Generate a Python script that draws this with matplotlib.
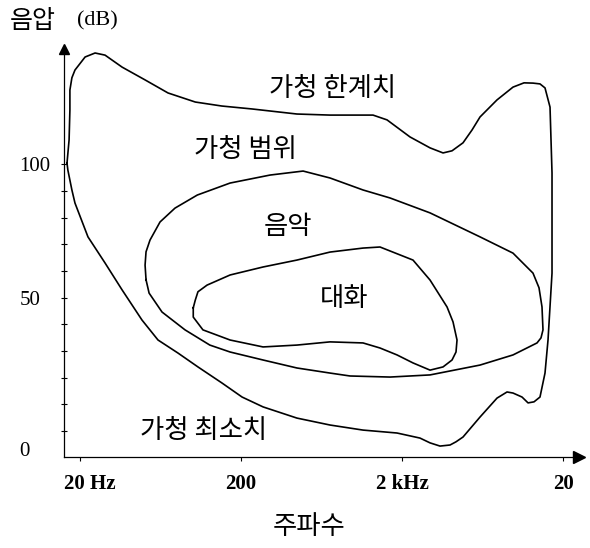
import matplotlib
matplotlib.use('Agg')
import numpy as np
import matplotlib.pyplot as plt
import matplotlib.transforms as mtransforms
from matplotlib.ticker import NullLocator

# hearing range (가청 한계치 on top, 가청 최소치 at the bottom)
outer_hz = [16.6, 17.1, 17.3, 17.3, 17.8, 18.6, 21.5, 24.8, 28.6, 36.5, 50.7, 70.4, 104, 152,
            234, 445, 714, 1321, 1614, 2242, 2986, 3596, 4090, 4786, 5442, 6104, 7782, 9783,
            11450, 13020, 14390, 15460, 16610, 17090, 17090, 16140, 15460, 14390, 13210, 12130,
            11130, 9783, 8980, 7782, 6104, 4786, 4329, 3975, 3444, 2986, 2587, 1862, 1145, 714,
            445, 274, 203, 152, 108, 81.2, 61.0, 48.5, 36.5, 28.6, 22.4, 18.6, 17.8, 16.8]
outer_db = [100.5, 109.2, 120.4, 127.9, 132.5, 135.4, 140.3, 141.8, 141.0, 136.5, 131.7, 126.8,
            123.4, 121.9, 120.8, 118.9, 118.5, 118.5, 116.7, 110.3, 106.2, 104.3, 105.1, 108.1,
            112.9, 117.8, 124.2, 129.0, 130.6, 130.5, 130.2, 128.7, 121.5, 96.8, 59.2, 34.1,
            21.7, 12.7, 10.9, 10.5, 12.7, 14.2, 14.6, 12.3, 5.2, -2.3, -4.1, -5.3, -5.7, -4.5,
            -2.7, -0.8, 0.3, 2.2, 4.8, 9.0, 12.7, 18.0, 24.0, 29.2, 34.1, 41.6, 52.9, 63.0, 72.8,
            85.5, 90.4, 97.9]

# music
music_hz = [51.4, 50.7, 51.4, 54.4, 62.8, 77.8, 107, 171, 303, 486, 714, 1145, 1685, 2986,
            6104, 9783, 13020, 14190, 14810, 15020, 14600, 13790, 9783, 6104, 2986, 1685, 951,
            714, 445, 274, 171, 128, 89.8, 64.6, 53.7]
music_db = [56.7, 62.2, 67.2, 71.6, 78.4, 83.6, 88.5, 93.0, 96.0, 97.5, 94.9, 90.4, 87.4, 81.8,
            72.8, 66.7, 59.2, 53.7, 46.5, 37.9, 34.9, 33.0, 28.5, 24.7, 21.0, 20.2, 20.6, 21.7,
            23.6, 26.6, 29.6, 32.2, 37.9, 44.6, 51.7]

# speech
speech_hz = [101, 104, 108, 123, 171, 274, 445, 714, 1145, 1460, 2340, 2986, 3808, 4148, 4392,
             4329, 4090, 3596, 2986, 2340, 1862, 1460, 1145, 714, 445, 274, 171, 116, 101]
speech_db = [46.2, 49.1, 52.2, 54.7, 58.5, 61.5, 64.1, 67.1, 68.6, 69.0, 64.1, 56.6, 46.5, 40.9,
             34.1, 29.6, 26.6, 24.0, 22.8, 25.5, 28.5, 31.1, 33.0, 33.4, 32.2, 31.5, 34.1, 37.9,
             42.7]

x_ticks = [20, 200, 2000, 20000]
x_tick_labels = ['20 Hz', '200', '2 kHz', '20']
y_ticks = [0, 50, 100]
y_tick_labels = ['0', '50', '100']
y_minor = [10, 20, 30, 40, 60, 70, 80, 90]

W, H = 590, 548
KR = ['Noto Sans CJK KR', 'DejaVu Sans']
SERIF = 'Liberation Serif'


def px(x, y):
    return x / W, 1 - y / H


fig = plt.figure(figsize=(W / 100, H / 100), dpi=100, facecolor='white')
ax = fig.add_axes([64 / W, 1 - 457 / H, (579 - 64) / W, (457 - 49) / H])
ax.set_xscale('log')
ax.set_xlim(15.9, 25140)
ax.set_ylim(-9.8, 143.3)

for hz, db in [(outer_hz, outer_db), (music_hz, music_db), (speech_hz, speech_db)]:
    ax.plot(np.append(hz, hz[0]), np.append(db, db[0]), color='black', lw=1.2,
            solid_joinstyle='round', clip_on=False)

for s in ['top', 'right']:
    ax.spines[s].set_visible(False)
for s in ['left', 'bottom']:
    ax.spines[s].set_linewidth(0.9)

# arrow heads on the axes
ax.plot(1, 0, '>', color='black', ms=8, transform=ax.transAxes, clip_on=False)
ax.plot(0, 1, '^', color='black', ms=7, transform=ax.transAxes, clip_on=False)

ax.set_xticks(x_ticks)
ax.set_xticklabels(x_tick_labels, fontfamily=SERIF, fontsize=15, fontweight='bold')
ax.xaxis.set_minor_locator(NullLocator())
ax.tick_params(axis='x', direction='out', length=3, width=0.8, pad=9)

ax.set_yticks(y_ticks)
ax.set_yticklabels(y_tick_labels, fontfamily=SERIF, fontsize=15)
ax.set_yticks(y_minor, minor=True)
ax.tick_params(axis='y', which='both', direction='inout', length=4, width=0.8, pad=30)
for lab in ax.get_yticklabels():
    lab.set_horizontalalignment('left')

# small nudges to match the hand-set labels
lab0 = ax.get_yticklabels()[0]
lab0.set_transform(lab0.get_transform() + mtransforms.ScaledTranslation(0, -0.18, fig.dpi_scale_trans))
labx = ax.get_xticklabels()[0]
labx.set_transform(labx.get_transform() + mtransforms.ScaledTranslation(0.1, 0, fig.dpi_scale_trans))

# texts
fig.text(*px(10, 21), '음압', family=KR, fontsize=18, ha='left', va='center')
fig.text(*px(77, 21), '(dB)', family=SERIF, fontsize=16, ha='left', va='center')
fig.text(*px(333, 89), '가청 한계치', family=KR, fontsize=19, ha='center', va='center')
fig.text(*px(245, 150), '가청 범위', family=KR, fontsize=19, ha='center', va='center')
fig.text(*px(288, 227), '음악', family=KR, fontsize=19, ha='center', va='center')
fig.text(*px(344, 298), '대화', family=KR, fontsize=19, ha='center', va='center')
fig.text(*px(204, 431), '가청 최소치', family=KR, fontsize=19, ha='center', va='center')
fig.text(*px(309, 527), '주파수', family=KR, fontsize=19, ha='center', va='center')

fig.savefig('out.png', dpi=100, facecolor='white')
